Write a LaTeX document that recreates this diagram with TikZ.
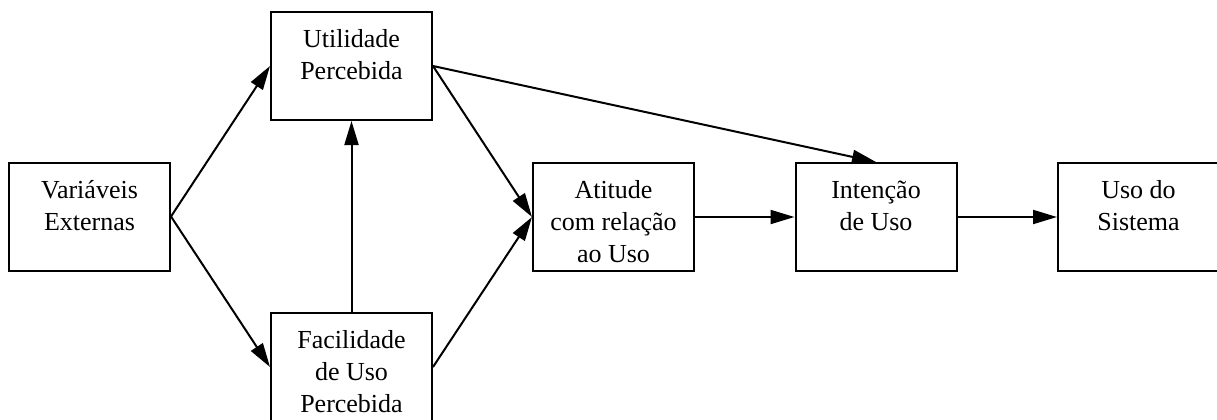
\documentclass[tikz,border=0pt]{standalone}
\usepackage{fontspec}
\setmainfont{Liberation Serif}
\usetikzlibrary{arrows.meta}
\newcommand{\toprule}{\rule{0pt}{27bp}}
\begin{document}
\begin{tikzpicture}[x=1bp,y=-1bp,
  box/.style={draw,line width=2bp,minimum width=161bp,minimum height=108bp,
    align=center,inner sep=0pt,font=\fontsize{26bp}{32bp}\selectfont},
  arr/.style={line width=2bp,-{Triangle[length=24bp,width=14bp]}}]
\useasboundingbox (0,0) rectangle (1217,419);
\node[box] (ve) at (89.5,216.5) {\toprule Variáveis\\Externas\\\mbox{}};
\node[box] (up) at (351.5,66) {\toprule Utilidade\\Percebida\\\mbox{}};
\node[box] (fu) at (351.5,367) {\toprule Facilidade\\de Uso\\Percebida};
\node[box] (at) at (613.5,217) {\toprule Atitude\\com relação\\ao Uso};
\node[box] (iu) at (876,217) {\toprule Intenção\\de Uso\\\mbox{}};
\node[box] (us) at (1138.5,217) {\toprule Uso do\\Sistema\\\mbox{}};
\draw[arr] (ve.east) -- (up.west);
\draw[arr] (ve.east) -- (fu.west);
\draw[arr] (fu.north) -- (up.south);
\draw[arr] (up.east) -- (at.west);
\draw[arr] (fu.east) -- (at.west);
\draw[arr] (up.east) -- (iu.north);
\draw[arr] (at.east) -- (iu.west);
\draw[arr] (iu.east) -- (us.west);
\end{tikzpicture}
\end{document}
